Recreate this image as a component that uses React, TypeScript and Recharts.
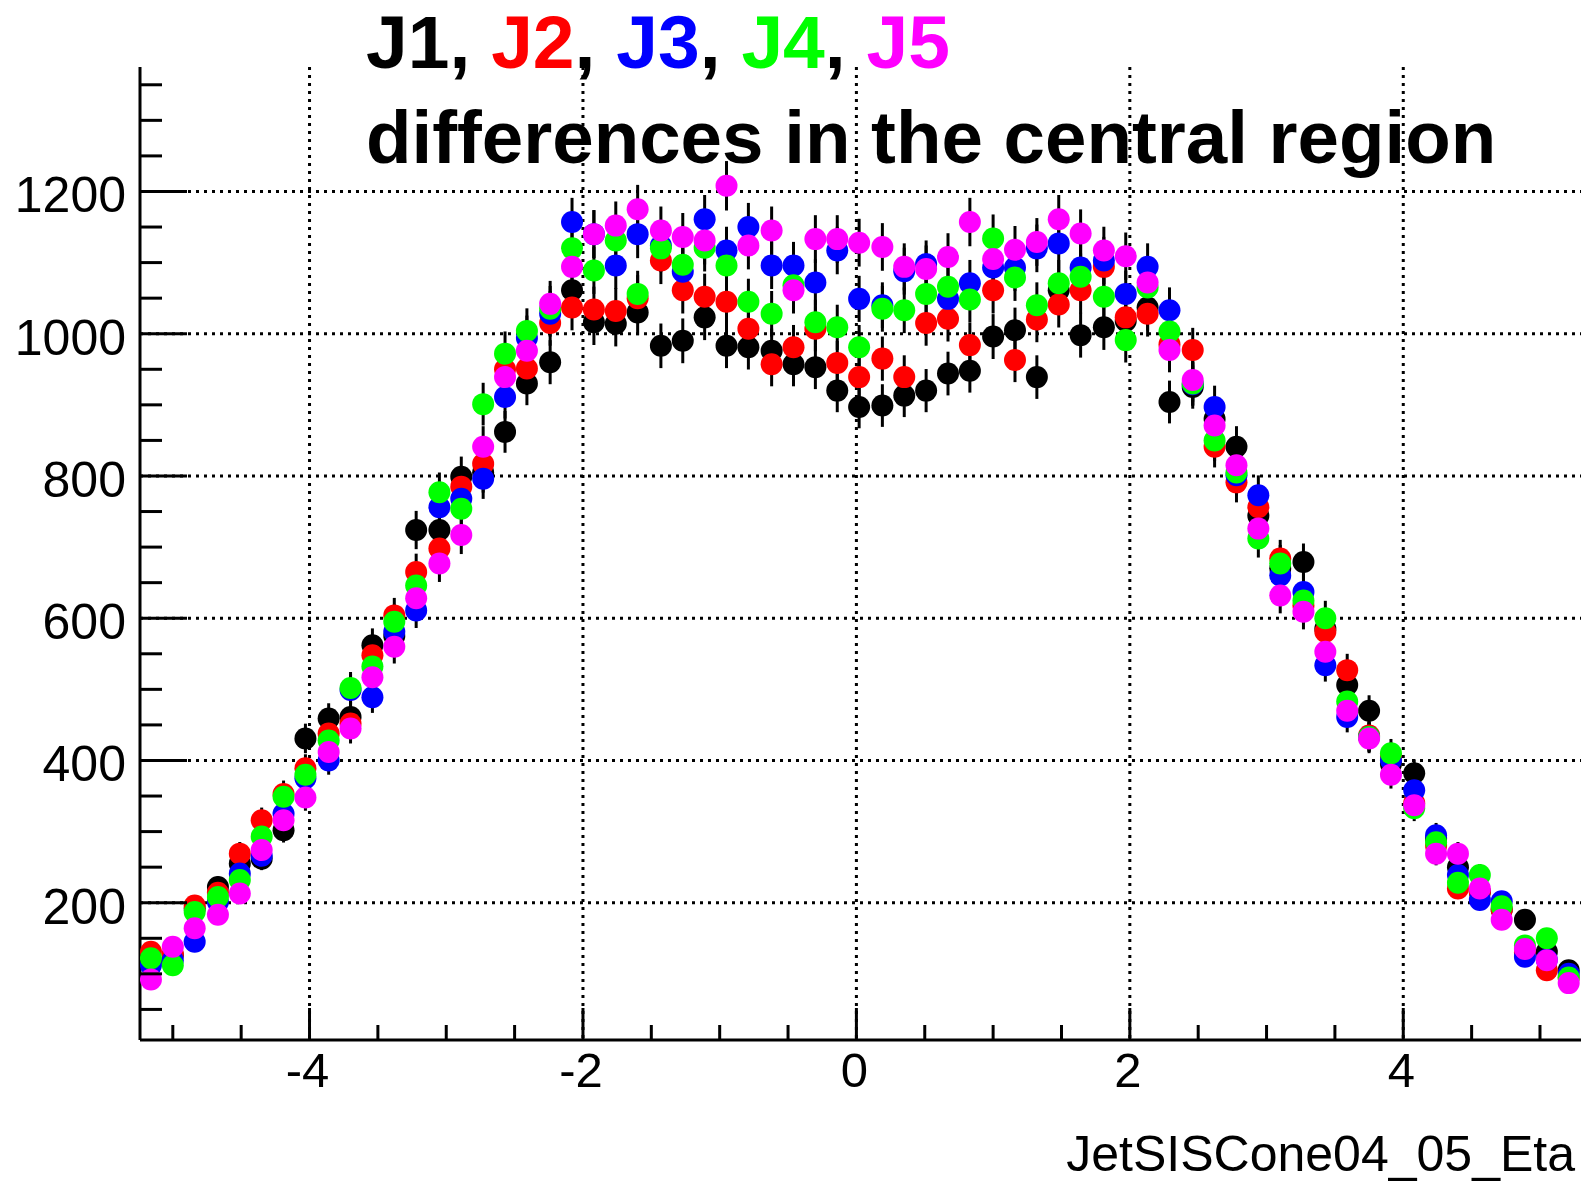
import React from 'react'
import {
  ScatterChart,
  Scatter,
  XAxis,
  YAxis,
  CartesianGrid,
  ErrorBar,
} from 'recharts'

// bin centres of the eta histogram
const eta = [
  -5.16, -5.0, -4.84, -4.67, -4.51, -4.35, -4.19, -4.03, -3.86, -3.7,
  -3.54, -3.38, -3.22, -3.05, -2.89, -2.73, -2.57, -2.41, -2.24, -2.08,
  -1.92, -1.76, -1.6, -1.43, -1.27, -1.11, -0.95, -0.79, -0.62, -0.46,
  -0.3, -0.14, 0.02, 0.19, 0.35, 0.51, 0.67, 0.83, 1.0, 1.16,
  1.32, 1.48, 1.64, 1.81, 1.97, 2.13, 2.29, 2.46, 2.62, 2.78,
  2.94, 3.1, 3.27, 3.43, 3.59, 3.75, 3.91, 4.08, 4.24, 4.4,
  4.56, 4.72, 4.89, 5.05, 5.21,
]

const j1 = [
  118, 126, 192, 222, 255, 262, 302, 431, 459, 461,
  562, 575, 724, 724, 799, 805, 862, 930, 960, 1061,
  1016, 1014, 1030, 983, 990, 1023, 983, 981, 976, 957,
  953, 920, 897, 899, 913, 920, 944, 948, 996, 1005,
  939, 1061, 998, 1009, 1018, 1037, 904, 925, 880, 841,
  744, 670, 679, 585, 506, 470, 395, 382, 290, 250,
  215, 190, 176, 131, 105,
]

const j2 = [
  131, 128, 196, 214, 269, 316, 353, 389, 438, 452,
  548, 604, 665, 698, 785, 817, 950, 951, 1015, 1037,
  1034, 1032, 1050, 1103, 1061, 1052, 1045, 1007, 957, 981,
  1007, 959, 939, 965, 939, 1015, 1021, 984, 1061, 963,
  1020, 1041, 1061, 1094, 1023, 1028, 985, 977, 841, 791,
  756, 684, 618, 581, 527, 435, 405, 340, 280, 220,
  215, 190, 130, 105, 95,
]

const j3 = [
  112, 119, 145, 201, 241, 266, 325, 375, 400, 499,
  489, 581, 611, 756, 768, 796, 911, 994, 1028, 1157,
  1140, 1096, 1140, 1124, 1087, 1161, 1117, 1150, 1096, 1096,
  1072, 1117, 1049, 1040, 1088, 1098, 1049, 1071, 1093, 1093,
  1120, 1127, 1093, 1103, 1056, 1094, 1033, 929, 897, 801,
  773, 660, 637, 534, 461, 433, 400, 358, 295, 239,
  204, 202, 124, 120, 100,
]

const j4 = [
  122, 112, 187, 208, 232, 293, 349, 380, 428, 502,
  532, 595, 646, 777, 754, 901, 972, 1004, 1035, 1120,
  1089, 1131, 1056, 1120, 1097, 1121, 1096, 1045, 1028, 1068,
  1016, 1009, 981, 1035, 1033, 1056, 1066, 1048, 1134, 1079,
  1040, 1071, 1080, 1052, 991, 1065, 1003, 930, 850, 805,
  712, 677, 625, 600, 483, 433, 410, 333, 285, 228,
  239, 195, 140, 150, 95,
]

const j5 = [
  92, 138, 164, 183, 213, 274, 316, 348, 412, 445,
  517, 560, 628, 677, 717, 841, 939, 976, 1042, 1094,
  1140, 1152, 1175, 1145, 1136, 1131, 1208, 1124, 1145, 1061,
  1133, 1133, 1128, 1122, 1094, 1091, 1108, 1157, 1105, 1118,
  1129, 1161, 1141, 1117, 1109, 1072, 977, 935, 871, 815,
  726, 632, 609, 553, 470, 431, 380, 337, 269, 269,
  220, 176, 135, 119, 87,
]

const series = [
  { name: 'J1', color: '#000000', values: j1 },
  { name: 'J2', color: '#ff0000', values: j2 },
  { name: 'J3', color: '#0000ff', values: j3 },
  { name: 'J4', color: '#00ff00', values: j4 },
  { name: 'J5', color: '#ff00ff', values: j5 },
]

const xTicks = [
  -5, -4.5, -4, -3.5, -3, -2.5, -2, -1.5, -1, -0.5, 0,
  0.5, 1, 1.5, 2, 2.5, 3, 3.5, 4, 4.5, 5,
]
const xMajor = [-4, -2, 0, 2, 4]

const yTicks = [
  50, 100, 150, 200, 250, 300, 350, 400, 450, 500, 550, 600, 650, 700,
  750, 800, 850, 900, 950, 1000, 1050, 1100, 1150, 1200, 1250, 1300, 1350,
]
const yMajor = [200, 400, 600, 800, 1000, 1200]

const FONT = "'Liberation Sans', Arial, Helvetica, sans-serif"

const XTick = (props: any) => {
  const { x, y, payload } = props
  const major = xMajor.includes(payload.value)
  return (
    <g>
      <line x1={x} x2={x} y1={y} y2={y - (major ? 32 : 15)} stroke="#000" strokeWidth={3} />
      {major && (
        <text x={x - 2} y={y + 47} textAnchor="middle" fontSize={49} fontFamily={FONT} fill="#000">
          {payload.value}
        </text>
      )}
    </g>
  )
}

const YTick = (props: any) => {
  const { x, y, payload } = props
  const major = yMajor.includes(payload.value)
  return (
    <g>
      <line x1={x} x2={x + (major ? 47 : 22)} y1={y} y2={y} stroke="#000" strokeWidth={3} />
      {major && (
        <text x={x - 14} y={y + 21} textAnchor="end" fontSize={50} fontFamily={FONT} fill="#000">
          {payload.value}
        </text>
      )}
    </g>
  )
}

const Dot = (color: string) => (props: any) => {
  const { cx, cy } = props
  if (cx == null || cy == null) return <g />
  return <circle cx={cx} cy={cy} r={11} fill={color} />
}

const App = () => {
  return (
    <div style={{ position: 'absolute', left: 0, top: 0, width: 1586, height: 1185, background: '#fff' }}>
      <ScatterChart width={1586} height={1185} margin={{ top: 67, right: 5, left: 0, bottom: 0 }}>
        <CartesianGrid
          horizontalValues={yMajor}
          verticalValues={xMajor}
          stroke="#000"
          strokeWidth={3}
          strokeDasharray="3 5"
        />
        <XAxis
          type="number"
          dataKey="x"
          domain={[-5.24, 5.3]}
          allowDataOverflow
          ticks={xTicks}
          interval={0}
          height={145}
          tickSize={0}
          tickMargin={0}
          tickLine={false}
          axisLine={{ stroke: '#000', strokeWidth: 3 }}
          tick={(p: any) => <XTick {...p} />}
        />
        <XAxis
          xAxisId="top"
          orientation="top"
          type="number"
          domain={[0, 1]}
          height={0}
          tick={false}
          tickLine={false}
          axisLine={{ stroke: '#000', strokeWidth: 3 }}
        />
        <YAxis
          type="number"
          dataKey="y"
          domain={[7, 1375]}
          allowDataOverflow
          ticks={yTicks}
          interval={0}
          width={140}
          tickSize={0}
          tickMargin={0}
          tickLine={false}
          axisLine={{ stroke: '#000', strokeWidth: 3 }}
          tick={(p: any) => <YTick {...p} />}
        />
        <YAxis
          yAxisId="right"
          orientation="right"
          type="number"
          domain={[0, 1]}
          width={0}
          tick={false}
          tickLine={false}
          axisLine={{ stroke: '#000', strokeWidth: 3 }}
        />
        {series.map((s) => (
          <Scatter
            key={s.name}
            name={s.name}
            data={eta.map((x, i) => ({ x, y: s.values[i], err: Math.sqrt(s.values[i]) }))}
            fill={s.color}
            shape={Dot(s.color)}
            isAnimationActive={false}
          >
            <ErrorBar dataKey="err" direction="y" width={0} stroke="#000" strokeWidth={3} isAnimationActive={false} />
          </Scatter>
        ))}
      </ScatterChart>
      <svg
        width={1586}
        height={1185}
        style={{ position: 'absolute', left: 0, top: 0, pointerEvents: 'none' }}
      >
        <text x={366} y={68} fontSize={75} fontWeight="bold" fontFamily={FONT} fill="#000">
          <tspan fill="#000000">J1</tspan>
          <tspan>, </tspan>
          <tspan fill="#ff0000">J2</tspan>
          <tspan>, </tspan>
          <tspan fill="#0000ff">J3</tspan>
          <tspan>, </tspan>
          <tspan fill="#00ff00">J4</tspan>
          <tspan>, </tspan>
          <tspan fill="#ff00ff">J5</tspan>
        </text>
        <text x={366} y={163} fontSize={74.5} fontWeight="bold" fontFamily={FONT} fill="#000">
          differences in the central region
        </text>
        <text x={1575} y={1171} fontSize={50} textAnchor="end" fontFamily={FONT} fill="#000">
          JetSISCone04_05_Eta
        </text>
      </svg>
    </div>
  )
}

export default App
